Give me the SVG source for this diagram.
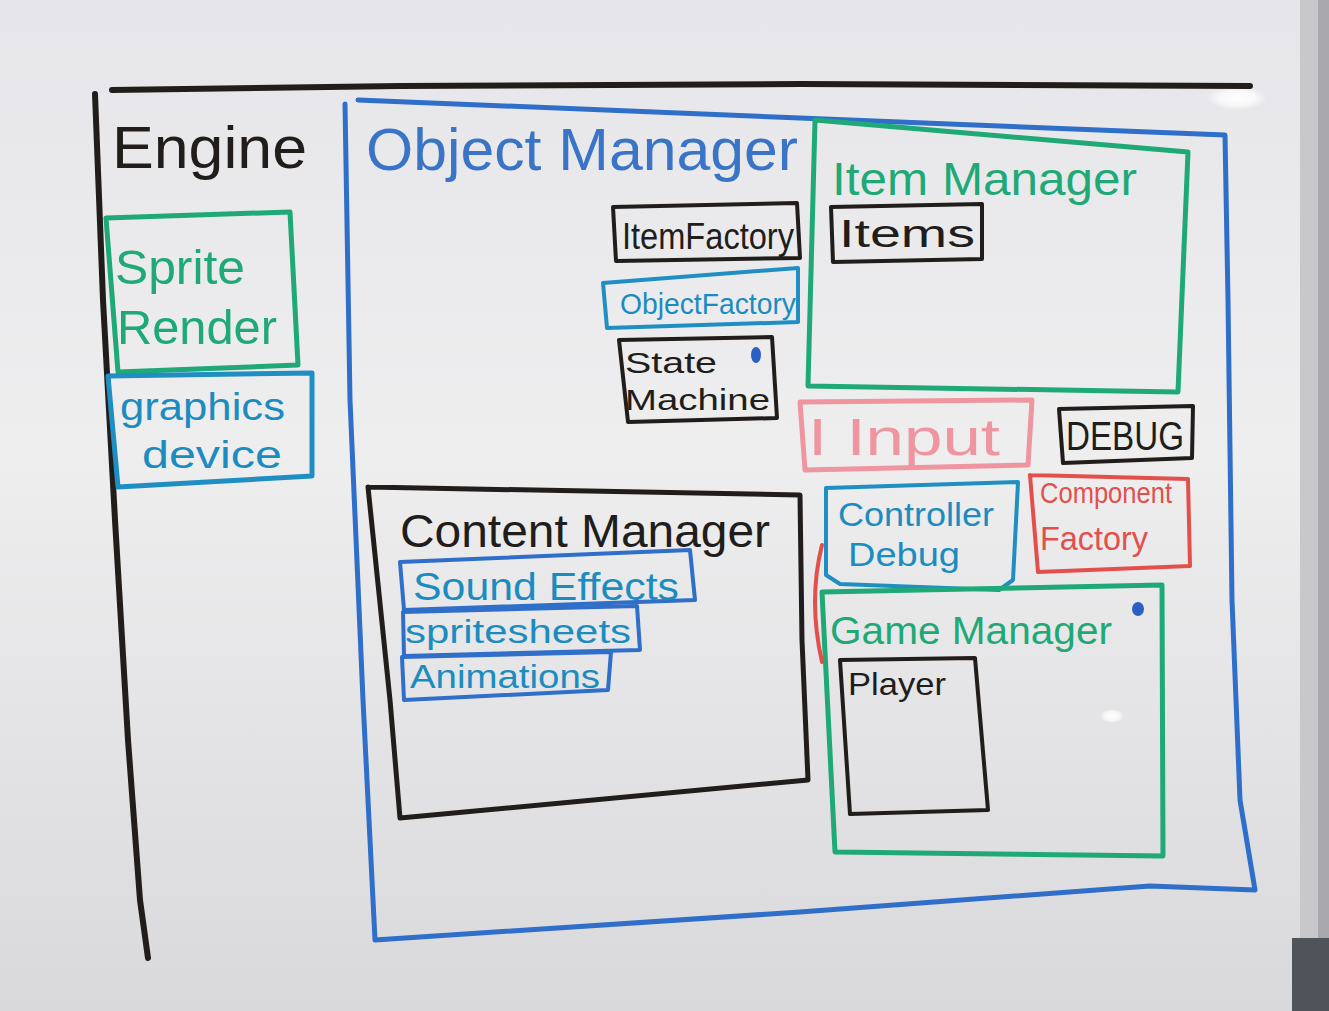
<svg xmlns="http://www.w3.org/2000/svg" width="1329" height="1011" viewBox="0 0 1329 1011">
  <defs>
    <linearGradient id="board" x1="0" y1="0" x2="0" y2="1">
      <stop offset="0" stop-color="#e6e6ea"/>
      <stop offset="0.45" stop-color="#eeeeef"/>
      <stop offset="1" stop-color="#d9d9dc"/>
    </linearGradient>
    <radialGradient id="glare" cx="0.5" cy="0.5" r="0.5">
      <stop offset="0" stop-color="#ffffff" stop-opacity="1"/>
      <stop offset="0.6" stop-color="#ffffff" stop-opacity="0.7"/>
      <stop offset="1" stop-color="#ffffff" stop-opacity="0"/>
    </radialGradient>
    <style>
      .m { fill: none; stroke-linecap: round; stroke-linejoin: round; }
      .k { stroke: #211d1a; }
      .b { stroke: #2f6ec9; }
      .g { stroke: #1fa977; }
      .t { stroke: #1f8ec3; }
      .p { stroke: #ef95a0; }
      .r { stroke: #e3504b; }
      .w4 { stroke-width: 4; }
      .w5 { stroke-width: 5; }
      .w6 { stroke-width: 6; }
      text { font-family: "Liberation Sans", Arial, sans-serif; }
      .tk { fill: #211d1a; }
      .tb { fill: #3a74c7; }
      .tg { fill: #1fa977; }
      .tt { fill: #1c8cc0; }
      .tp { fill: #ef95a0; }
      .tr { fill: #e3504b; }
    </style>
  </defs>

  <!-- whiteboard surface and frame -->
  <rect x="0" y="0" width="1329" height="1011" fill="url(#board)"/>
  <rect x="1300" y="0" width="29" height="1011" fill="#c8c8cb"/>
  <rect x="1318" y="0" width="11" height="1011" fill="#a9a9ad"/>
  <rect x="1292" y="938" width="37" height="73" fill="#50545a"/>
  <ellipse cx="1237" cy="98" rx="30" ry="12" fill="url(#glare)"/>
  <ellipse cx="1112" cy="716" rx="12" ry="7" fill="url(#glare)"/>

  <!-- Engine -->
  <g id="engine">
    <path class="m k w6" d="M112 90 L400 86 L800 84 L1250 86"/>
    <path class="m k w6" d="M95 94 L103 300 L115 520 L128 740 L140 900 L148 958"/>
    <text class="tk" x="112" y="168" font-size="60" textLength="195" lengthAdjust="spacingAndGlyphs">Engine</text>
  </g>

  <g id="sprite-render">
    <path class="m g w5" d="M106 218 L290 212 L298 365 L118 372 L106 218"/>
    <text class="tg" x="115" y="284" font-size="48" textLength="130" lengthAdjust="spacingAndGlyphs">Sprite</text>
    <text class="tg" x="117" y="344" font-size="48" textLength="160" lengthAdjust="spacingAndGlyphs">Render</text>
  </g>

  <g id="graphics-device">
    <path class="m t w5" d="M108 376 L312 373 L312 476 L118 487 L108 376"/>
    <text class="tt" x="120" y="420" font-size="38" textLength="165" lengthAdjust="spacingAndGlyphs">graphics</text>
    <text class="tt" x="142" y="468" font-size="38" textLength="140" lengthAdjust="spacingAndGlyphs">device</text>
  </g>

  <!-- Object Manager -->
  <g id="object-manager">
    <path class="m b w5" d="M358 100 L800 118 L1225 135 L1228 300 L1232 600 L1240 800 L1255 890 L1150 886 L800 912 L375 940 L363 700 L350 400 L345 104"/>
    <text class="tb" x="366" y="170" font-size="60" textLength="432" lengthAdjust="spacingAndGlyphs">Object Manager</text>
  </g>

  <g id="item-manager">
    <path class="m g w5" d="M815 120 L1188 152 L1178 392 L808 386 L815 120"/>
    <text class="tg" x="832" y="195" font-size="46" textLength="305" lengthAdjust="spacingAndGlyphs">Item Manager</text>
  </g>

  <g id="items">
    <path class="m k w4" d="M831 207 L982 204 L982 259 L833 262 L831 207"/>
    <text class="tk" x="839" y="247" font-size="38" textLength="136" lengthAdjust="spacingAndGlyphs">Items</text>
  </g>

  <g id="item-factory">
    <path class="m k w4" d="M613 207 L797 203 L800 258 L616 261 L613 207"/>
    <text class="tk" x="622" y="249" font-size="36" textLength="172" lengthAdjust="spacingAndGlyphs">ItemFactory</text>
  </g>

  <g id="object-factory">
    <path class="m t w4" d="M603 283 L798 268 L798 322 L607 328 L603 283"/>
    <text class="tt" x="620" y="314" font-size="30" textLength="176" lengthAdjust="spacingAndGlyphs">ObjectFactory</text>
  </g>

  <g id="state-machine">
    <path class="m k w4" d="M619 340 L772 337 L777 418 L628 422 L619 340"/>
    <ellipse cx="756" cy="355" rx="5" ry="8" fill="#2a5fc4"/>
    <text class="tk" x="625" y="373" font-size="30" textLength="92" lengthAdjust="spacingAndGlyphs">State</text>
    <text class="tk" x="625" y="410" font-size="30" textLength="145" lengthAdjust="spacingAndGlyphs">Machine</text>
  </g>

  <g id="i-input">
    <path class="m p w5" d="M800 402 L1032 400 L1028 465 L805 470 L800 402"/>
    <text class="tp" x="808" y="455" font-size="52" textLength="192" lengthAdjust="spacingAndGlyphs">I Input</text>
  </g>

  <g id="debug">
    <path class="m k w4" d="M1059 409 L1193 406 L1192 458 L1063 463 L1059 409"/>
    <text class="tk" x="1066" y="450" font-size="40" textLength="118" lengthAdjust="spacingAndGlyphs">DEBUG</text>
  </g>

  <g id="controller-debug">
    <path class="m t w4" d="M826 488 L1018 482 L1013 580 L999 590 L840 584 L826 575 L826 488"/>
    <text class="tt" x="838" y="526" font-size="34" textLength="156" lengthAdjust="spacingAndGlyphs">Controller</text>
    <text class="tt" x="848" y="566" font-size="34" textLength="112" lengthAdjust="spacingAndGlyphs">Debug</text>
  </g>

  <g id="component-factory">
    <path class="m r w4" d="M1030 475 L1188 479 L1190 566 L1038 572 L1030 475"/>
    <text class="tr" x="1040" y="503" font-size="30" textLength="132" lengthAdjust="spacingAndGlyphs">Component</text>
    <text class="tr" x="1040" y="550" font-size="34" textLength="108" lengthAdjust="spacingAndGlyphs">Factory</text>
  </g>

  <g id="game-manager">
    <path class="m g w5" d="M822 592 L1162 585 L1163 856 L835 852 L822 592"/>
    <ellipse cx="1138" cy="609" rx="6" ry="7" fill="#2a5fc4"/>
    <text class="tg" x="830" y="644" font-size="38" textLength="282" lengthAdjust="spacingAndGlyphs">Game Manager</text>
  </g>

  <g id="player">
    <path class="m k w4" d="M840 660 L975 658 L988 810 L850 814 L840 660"/>
    <text class="tk" x="848" y="695" font-size="32" textLength="98" lengthAdjust="spacingAndGlyphs">Player</text>
  </g>

  <!-- Content Manager -->
  <g id="content-manager">
    <path class="m k w5" d="M368 487 L800 495 L802 640 L808 780 L400 818 L390 700 L368 487"/>
    <text class="tk" x="400" y="547" font-size="46" textLength="370" lengthAdjust="spacingAndGlyphs">Content Manager</text>
  </g>

  <g id="sound-effects">
    <path class="m b w4" d="M400 562 L690 550 L695 600 L404 610 L400 562"/>
    <text class="tt" x="413" y="600" font-size="38" textLength="266" lengthAdjust="spacingAndGlyphs">Sound Effects</text>
  </g>

  <g id="spritesheets">
    <path class="m b w4" d="M403 612 L637 606 L640 650 L404 656 L403 612"/>
    <text class="tt" x="405" y="643" font-size="34" textLength="226" lengthAdjust="spacingAndGlyphs">spritesheets</text>
  </g>

  <g id="animations">
    <path class="m b w4" d="M402 657 L611 652 L608 690 L404 700 L402 657"/>
    <text class="tt" x="410" y="688" font-size="34" textLength="190" lengthAdjust="spacingAndGlyphs">Animations</text>
  </g>

  <!-- connectors -->
  <g id="connectors">
    <path class="m r w4" d="M822 545 Q808 600 822 662"/>
  </g>
</svg>
